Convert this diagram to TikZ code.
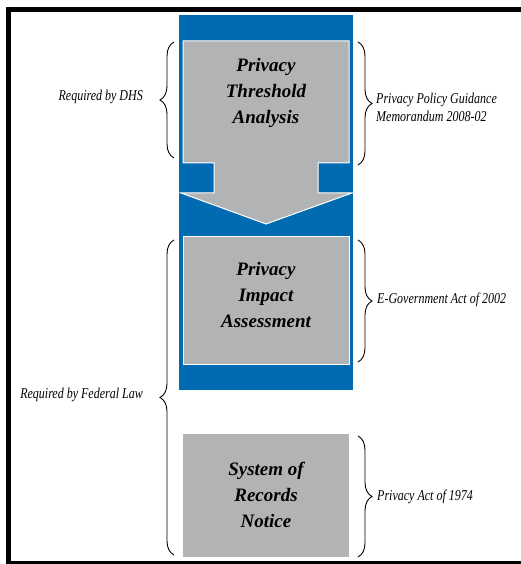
\documentclass[tikz,border=0pt]{standalone}
\usepackage{fontspec}
\setmainfont{Liberation Serif}
\newfontfamily\notefont[FakeStretch=0.8]{Liberation Serif}
\usetikzlibrary{decorations.pathreplacing}
\definecolor{dhsblue}{RGB}{0,107,176}
\definecolor{boxgrey}{RGB}{178,179,181}
\tikzset{
  bigtext/.style={font=\fontsize{19}{26}\selectfont\bfseries\itshape, align=center, inner sep=0pt},
  note/.style={font=\notefont\itshape\fontsize{15}{18}\selectfont, inner sep=0pt},
  greybox/.style={draw=white, fill=boxgrey, line width=1pt, rectangle, inner sep=0pt},
  bracel/.style={decorate, decoration={brace, amplitude=14pt}, line width=0.9pt},
}
\begin{document}
\begin{tikzpicture}[x=1pt,y=1pt]
\useasboundingbox (0,0) rectangle (521,564);
\fill[white] (0,0) rectangle (521,564);
% frame
\draw[line width=5pt] (8.5,0) -- (8.5,554.5) -- (521,554.5);
\draw[line width=3.5pt] (6,1.5) -- (521,1.5);
% blue band
\fill[dhsblue] (179,174) rectangle (353,549);
% arrow shape with PTA
\draw[draw=white, fill=boxgrey, line width=1pt]
  (183,523) -- (349,523) -- (349,401) -- (318,401) -- (318,371) -- (352,371)
  -- (266,340) -- (181,371) -- (214,371) -- (214,401) -- (183,401) -- cycle;
\node[bigtext] (pta) at (266,471) {Privacy\\Threshold\\Analysis};
% PIA box
\node[greybox, minimum width=166pt, minimum height=128pt] (piabox) at (266,263) {};
\node[bigtext] (pia) at (266,269) {Privacy\\Impact\\Assessment};
% SORN box
\node[greybox, draw=none, minimum width=166pt, minimum height=123pt] (sornbox) at (266,68.5) {};
\node[bigtext] (sorn) at (266,69) {System of\\Records\\Notice};
% brace coordinates
\coordinate (l1a) at (174,406);
\coordinate (l1b) at (174,522);
\coordinate (r1a) at (358,522);
\coordinate (r1b) at (358,399);
\coordinate (l2a) at (174,9);
\coordinate (l2b) at (174,324);
\coordinate (r2a) at (358,324);
\coordinate (r2b) at (358,202);
\coordinate (r3a) at (358,128);
\coordinate (r3b) at (358,7);
\draw[bracel] (l1a) -- (l1b);
\draw[bracel] (r1a) -- (r1b);
\draw[bracel] (l2a) -- (l2b);
\draw[bracel] (r2a) -- (r2b);
\draw[bracel] (r3a) -- (r3b);
% notes
\node[note, anchor=east] (dhs) at (143,467) {Required by DHS};
\node[note, anchor=west, align=left] (ppg) at (376,457) {Privacy Policy Guidance\\Memorandum 2008-02};
\node[note, anchor=east] (fed) at (143,169) {Required by Federal Law};
\node[note, anchor=west] (egov) at (377,264) {E-Government Act of 2002};
\node[note, anchor=west] (pa) at (377,67) {Privacy Act of 1974};
\end{tikzpicture}
\end{document}
